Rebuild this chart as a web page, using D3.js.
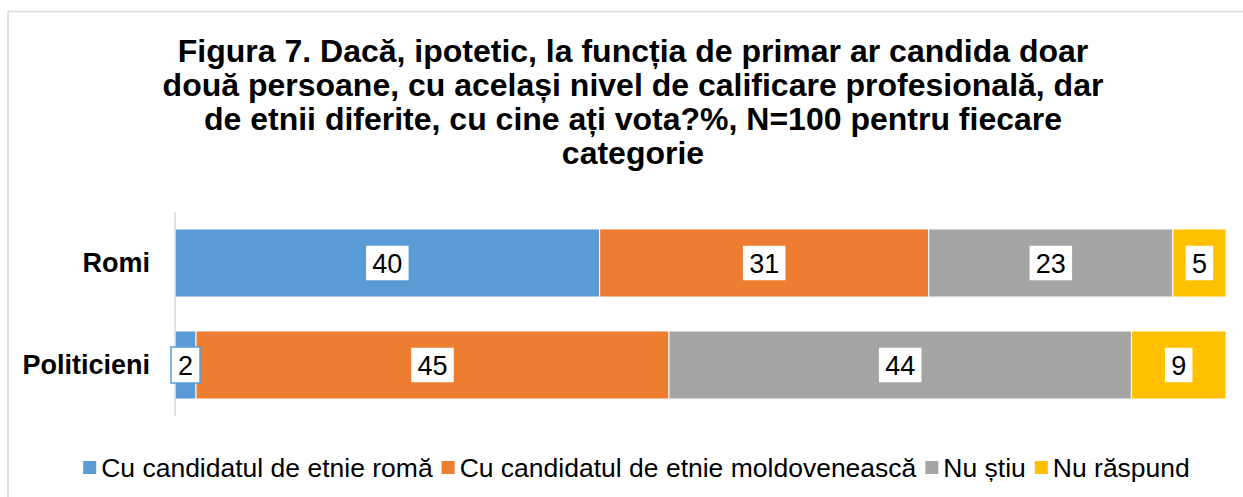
<!DOCTYPE html>
<html><head><meta charset="utf-8">
<script src="https://cdn.jsdelivr.net/npm/d3@7"></script>
<style>body{margin:0;background:#fff}svg{display:block}text{font-family:Arial,"Liberation Sans",sans-serif}</style>
</head><body><svg id="c" width="1243" height="497"></svg>
<script>
const titleLines = ["Figura 7. Dacă, ipotetic, la funcția de primar ar candida doar","două persoane, cu același nivel de calificare profesională, dar","de etnii diferite, cu cine ați vota?%, N=100 pentru fiecare","categorie"];
const categories = ["Romi","Politicieni"];
const seriesNames = ["Cu candidatul de etnie romă","Cu candidatul de etnie moldovenească","Nu știu","Nu răspund"];
const colors = ["#5B9BD5","#ED7D31","#A5A5A5","#FFC000"];
const romi = [40,31,23,5];
const politicieni = [2,45,44,9];
const values = [romi, politicieni];

const svg = d3.select("#c");
svg.append("rect").attr("x",8).attr("y",11.5).attr("width",1260).attr("height",520)
  .attr("fill","none").attr("stroke","#d9d9d9").attr("stroke-width",1.5);

const title = svg.append("text").attr("text-anchor","middle").attr("font-weight","bold").attr("font-size",32).attr("fill","#000");
titleLines.forEach((l,i)=>title.append("tspan").attr("x",633).attr("y",62+i*34).text(l));

const x = d3.scaleLinear().domain([0,1]).range([175,1226]);
const y = d3.scaleBand().domain(categories).range([212,416]).paddingInner(0.333).paddingOuter(0.1665);

const rows = categories.map((c,i)=>{
  const tot = d3.sum(values[i]); let acc=0;
  return values[i].map((v,k)=>{const s={cat:c,k,v,x0:acc/tot,x1:(acc+v)/tot}; acc+=v; return s;});
});
const segs = rows.flat();

svg.append("g").selectAll("rect").data(segs).join("rect")
  .attr("x",d=>x(d.x0)).attr("width",d=>x(d.x1)-x(d.x0))
  .attr("y",d=>y(d.cat)).attr("height",y.bandwidth())
  .attr("fill",d=>colors[d.k]).attr("stroke","#fff").attr("stroke-width",1);

// axis
const ax = svg.append("g").attr("transform","translate(175,0)").call(d3.axisLeft(y).tickSize(0).tickPadding(25));
ax.select(".domain").attr("stroke","#d9d9d9").attr("stroke-width",1.5).attr("d","M0,212V416");
ax.selectAll("text").attr("font-size",27).attr("font-weight","bold").attr("fill","#000").attr("font-family","Arial,'Liberation Sans',sans-serif");

// labels
const lg = svg.append("g").selectAll("g").data(segs).join("g")
  .attr("transform",d=>`translate(${(x(d.x0)+x(d.x1))/2},${y(d.cat)+y.bandwidth()/2})`);
lg.each(function(d){
  const g=d3.select(this);
  const t=g.append("text").attr("text-anchor","middle").attr("dy","0.36em").attr("font-size",27).attr("fill","#000").text(d.v);
  const w=t.node().getComputedTextLength()+14;
  g.insert("rect","text").attr("x",-w/2).attr("y",-18).attr("width",w).attr("height",36)
   .attr("fill","#fff").attr("stroke",colors[d.k]).attr("stroke-width",1.5);
});

// legend
const leg = svg.append("g");
let cx = 0;
seriesNames.forEach((n,i)=>{
  const g=leg.append("g");
  g.append("rect").attr("x",cx).attr("y",-7).attr("width",13).attr("height",13).attr("fill",colors[i]);
  const t=g.append("text").attr("x",cx+18).attr("y",9).attr("font-size",26.5).attr("fill","#000").text(n);
  cx += 18 + t.node().getComputedTextLength() + 9;
});
const totalW = cx-9;
leg.attr("transform",`translate(${636.5-totalW/2},468)`);
</script></body></html>
